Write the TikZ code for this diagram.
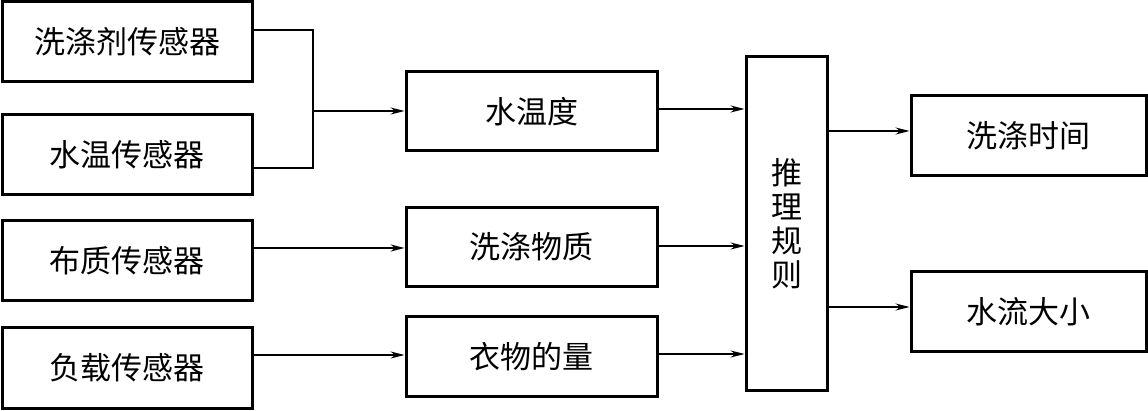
\documentclass[tikz,border=0pt]{standalone}
\usepackage{fontspec}
\newfontfamily\cjk{Noto Sans CJK SC}
\usepackage{tikz}
\usetikzlibrary{arrows.meta,positioning,calc}

\begin{document}
\begin{tikzpicture}[x=1pt, y=-1pt,
    sensor/.style={rectangle, draw, line width=3pt, minimum width=250pt, minimum height=80pt, font=\cjk\fontsize{31}{31}\selectfont},
    factor/.style={rectangle, draw, line width=3pt, minimum width=251pt, minimum height=79pt, font=\cjk\fontsize{31}{31}\selectfont},
    output/.style={rectangle, draw, line width=3pt, minimum width=235pt, minimum height=80pt, font=\cjk\fontsize{31}{31}\selectfont},
    rules/.style={rectangle, draw, line width=3pt, minimum width=81pt, minimum height=333pt, align=center, font=\cjk\fontsize{31}{34}\selectfont},
    arrow/.style={-{Stealth[length=14pt,width=7pt]}, line width=1.3pt},
    link/.style={line width=1.3pt}
]
\useasboundingbox (0,0) rectangle (1148,411);

% Sensors
\node[sensor] (detergent) at (127,42) {洗涤剂传感器};
\node[sensor] (watertemp) at (127,155) {水温传感器};
\node[sensor] (fabric) at (127,261) {布质传感器};
\node[sensor] (load) at (127,368) {负载传感器};

% Fuzzy inputs
\node[factor] (temp) at (531.5,111.5) {水温度};
\node[factor] (dirt) at (531.5,247) {洗涤物质};
\node[factor] (amount) at (531.5,356.5) {衣物的量};

% Rule base
\node[rules] (rule) at (786.5,223.5) {推\\理\\规\\则};

% Outputs
\node[output] (time) at (1028.5,135.5) {洗涤时间};
\node[output] (flow) at (1028.5,312) {水流大小};

% Connections
\coordinate (join) at (313,111);
\draw[link] ([yshift=12pt]detergent.east) -| (join) |- ([yshift=-13pt]watertemp.east);
\draw[arrow] (join) -- (join -| temp.west);
\draw[arrow] (fabric.east |- 0,248) -- (dirt.west |- 0,248);
\draw[arrow] (load.east |- 0,355) -- (amount.west |- 0,355);

\draw[arrow] (temp.east |- 0,109) -- (rule.west |- 0,109);
\draw[arrow] (dirt.east |- 0,246) -- (rule.west |- 0,246);
\draw[arrow] (amount.east |- 0,354) -- (rule.west |- 0,354);

\draw[arrow] (rule.east |- 0,131) -- (time.west |- 0,131);
\draw[arrow] (rule.east |- 0,307) -- (flow.west |- 0,307);

\end{tikzpicture}
\end{document}
